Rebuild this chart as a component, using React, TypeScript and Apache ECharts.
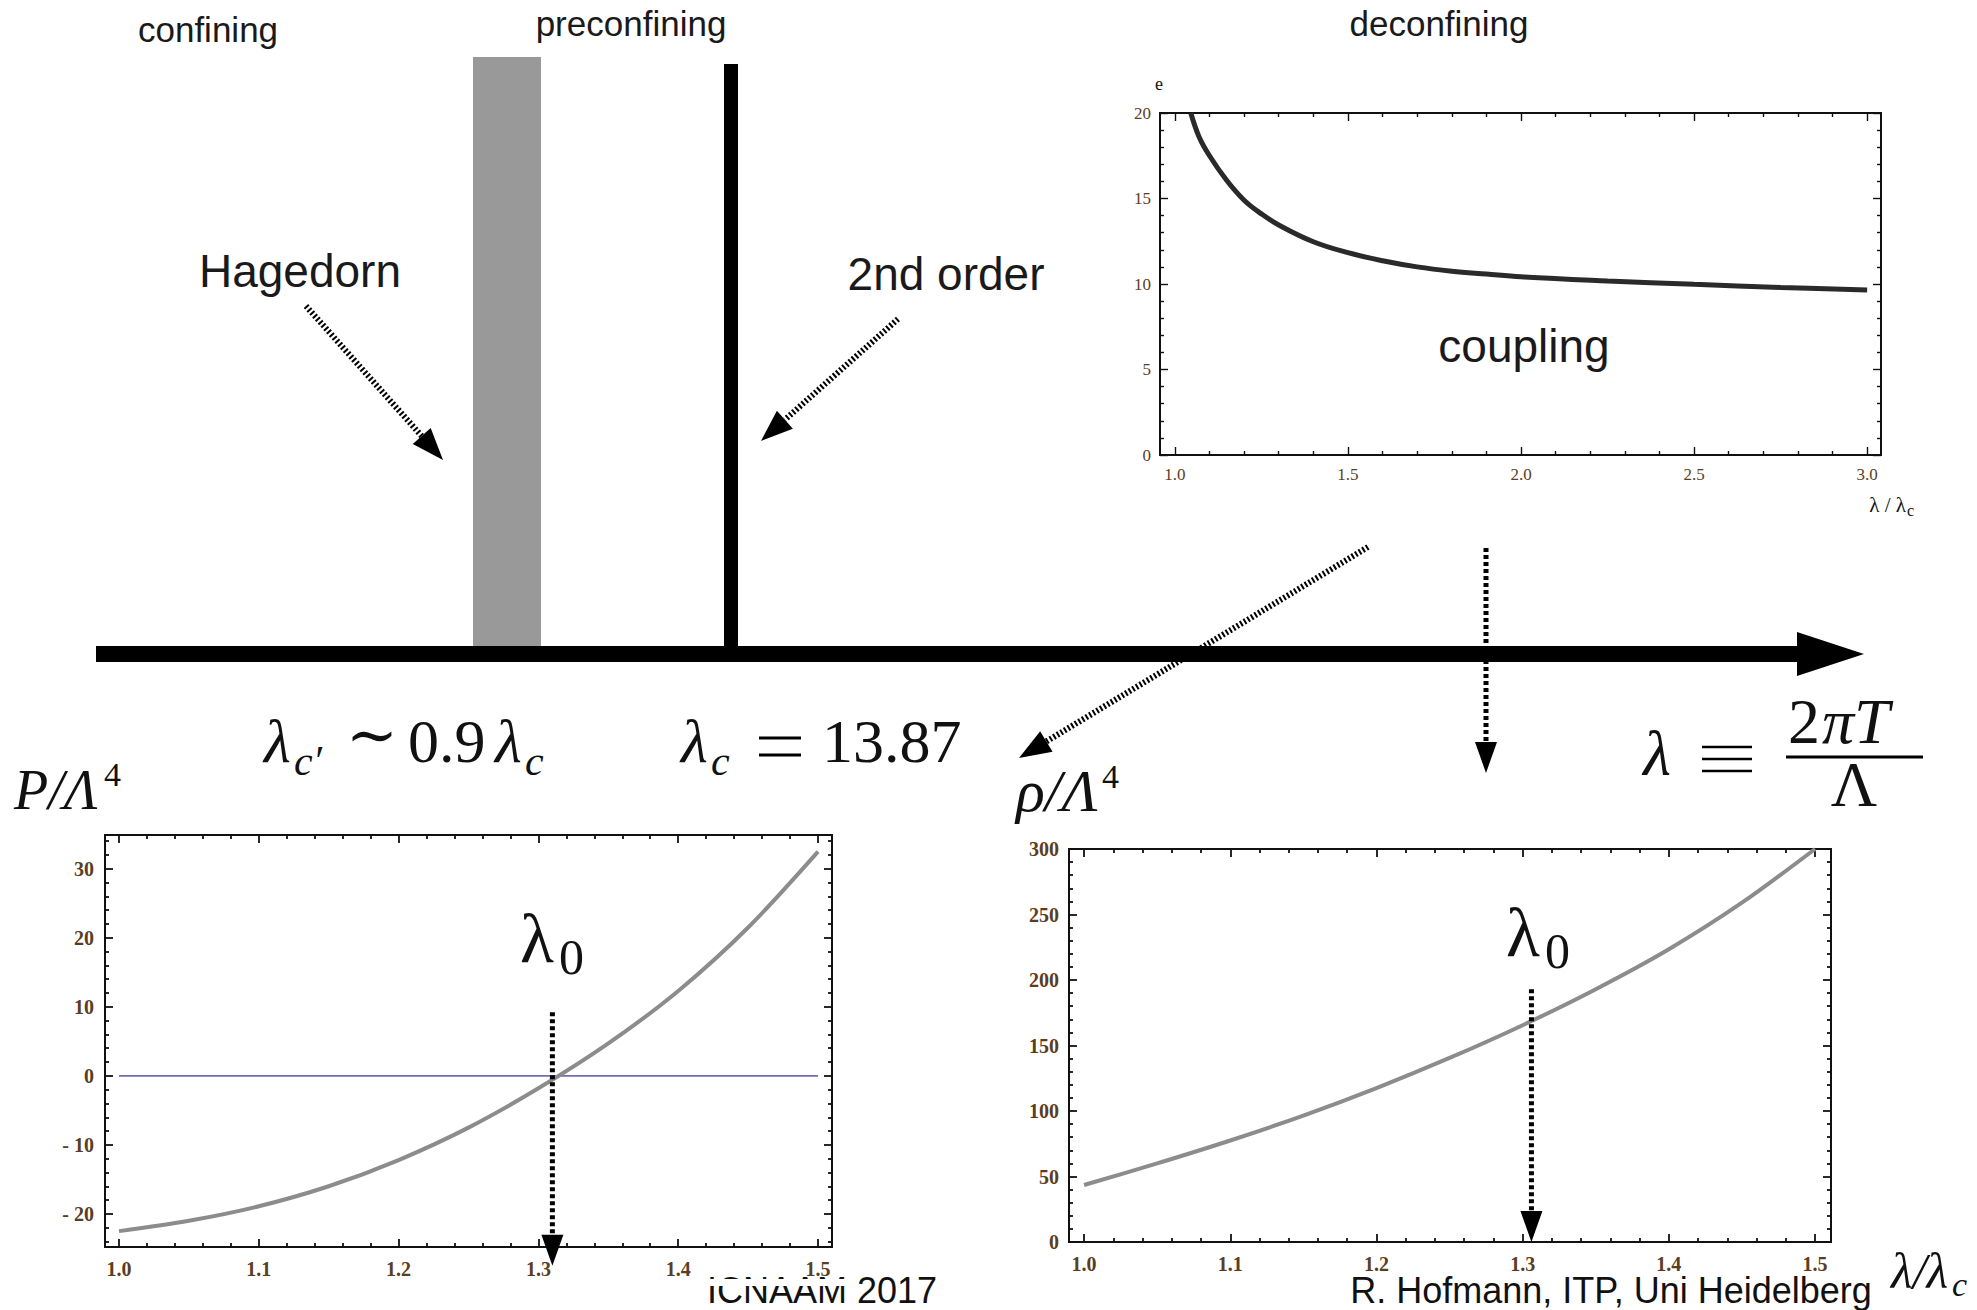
import React, { useEffect, useRef } from "react";
import * as echarts from "echarts";

// ---------- data ----------
const COUPLING_X = [1.046, 1.07, 1.1, 1.15, 1.2, 1.25, 1.3, 1.4, 1.5, 1.6, 1.7, 1.8, 1.9, 2.0, 2.25, 2.5, 2.75, 3.0];
const COUPLING_E = [20, 18.6, 17.5, 16.05, 14.9, 14.1, 13.45, 12.47, 11.83, 11.36, 11.0, 10.75, 10.58, 10.42, 10.18, 9.98, 9.8, 9.65];

const P_X = [1.0, 1.05, 1.1, 1.15, 1.2, 1.25, 1.3, 1.35, 1.4, 1.45, 1.5];
const P_Y = [-22.5, -21.0, -18.9, -16.0, -12.2, -7.5, -1.8, 4.7, 12.3, 21.5, 32.5];

const ZERO_X = [1.0, 1.5];
const ZERO_Y = [0, 0];

const RHO_X = [1.0, 1.05, 1.1, 1.15, 1.2, 1.25, 1.3, 1.35, 1.4, 1.45, 1.5];
const RHO_Y = [43.5, 60, 77.5, 96.5, 117.5, 140.5, 165.5, 193, 223.5, 259, 300];

// tick labels
const COUPLING_X_TICKS = [1.0, 1.5, 2.0, 2.5, 3.0];
const COUPLING_Y_TICKS = [0, 5, 10, 15, 20];
const P_X_TICKS = [1.0, 1.1, 1.2, 1.3, 1.4, 1.5];
const P_Y_TICKS = [-20, -10, 0, 10, 20, 30];
const RHO_X_TICKS = [1.0, 1.1, 1.2, 1.3, 1.4, 1.5];
const RHO_Y_TICKS = [0, 50, 100, 150, 200, 250, 300];

// lambda_0 markers (x, from, to in data units)
const P_LAMBDA0 = [1.31, 9.2, -27.5];
const RHO_LAMBDA0 = [1.306, 193, 0];

// ---------- styles ----------
const SERIF = '"Liberation Serif", "DejaVu Serif", serif';
const SANS = '"Liberation Sans", Arial, "DejaVu Sans", sans-serif';
const LABEL_COLOR = "#5b3d22";

function minorTicks(a: number, b: number, step: number, majors: number[]) {
  const out: number[] = [];
  const n = Math.round((b - a) / step);
  for (let i = 0; i <= n; i++) {
    const v = Math.round((a + i * step) * 1000) / 1000;
    if (!majors.some((m) => Math.abs(m - v) < 1e-6)) out.push(v);
  }
  return out;
}

function frameAxes(
  grid: number,
  kind: "x" | "y",
  min: number,
  max: number,
  majors: number[],
  minors: number[],
  label: any,
  tickW: number
) {
  const pos = kind === "x" ? ["bottom", "top"] : ["left", "right"];
  const list: any[] = [];
  pos.forEach((p, k) => {
    const base = {
      type: "value",
      gridIndex: grid,
      position: p,
      min,
      max,
      axisLine: { show: false, onZero: false },
      splitLine: { show: false },
      minorTick: { show: false },
    };
    list.push({
      ...base,
      axisTick: {
        show: true,
        inside: true,
        length: 8,
        customValues: majors,
        lineStyle: { color: "#111", width: tickW },
      },
      axisLabel:
        k === 0
          ? {
              show: true,
              customValues: majors,
              fontFamily: SERIF,
              color: LABEL_COLOR,
              ...label,
            }
          : { show: false },
    });
    list.push({
      ...base,
      axisTick: {
        show: true,
        inside: true,
        length: 4,
        customValues: minors,
        lineStyle: { color: "#111", width: tickW },
      },
      axisLabel: { show: false },
    });
  });
  return list;
}

function txt(t: string, x: number, baseline: number, size: number, o: any = {}) {
  return {
    type: "text",
    x,
    y: baseline - 0.35 * size,
    z: 100,
    silent: true,
    style: {
      text: t,
      fontSize: size,
      fontFamily: o.family || SANS,
      fontStyle: o.italic ? "italic" : "normal",
      fontWeight: o.weight || "normal",
      fill: o.color || "#111",
      textAlign: o.align || "left",
      textVerticalAlign: "middle",
      verticalAlign: "middle",
    },
  };
}

function seg(x1: number, y1: number, x2: number, y2: number, w: number) {
  return { type: "line", z: 100, silent: true, shape: { x1, y1, x2, y2 }, style: { stroke: "#000", lineWidth: w } };
}

function arrow(x1: number, y1: number, x2: number, y2: number, o: any) {
  const dx = x2 - x1;
  const dy = y2 - y1;
  const len = Math.hypot(dx, dy);
  const ux = dx / len;
  const uy = dy / len;
  const bx = x2 - ux * o.headLen;
  const by = y2 - uy * o.headLen;
  const nx = -uy;
  const ny = ux;
  return [
    {
      type: "line",
      z: 100,
      silent: true,
      shape: { x1, y1, x2: bx, y2: by },
      style: { stroke: "#000", lineWidth: o.width, lineDash: o.dash },
    },
    {
      type: "polygon",
      z: 100,
      silent: true,
      shape: {
        points: [
          [x2, y2],
          [bx + nx * o.headHalf, by + ny * o.headHalf],
          [bx - nx * o.headHalf, by - ny * o.headHalf],
        ],
      },
      style: { fill: "#000" },
    },
  ];
}

const HATCH = { width: 6, dash: [2, 2.2], headLen: 32, headHalf: 12 };
const DOTS = { width: 5, dash: [4, 3], headLen: 31, headHalf: 11 };

function buildGraphic() {
  const g: any[] = [];
  // main lambda axis
  g.push({ type: "rect", z: 90, silent: true, shape: { x: 96, y: 646, width: 1703, height: 16 }, style: { fill: "#000" } });
  g.push({ type: "polygon", z: 90, silent: true, shape: { points: [[1797, 632], [1797, 676], [1864, 654]] }, style: { fill: "#000" } });
  // Hagedorn band and 2nd order line
  g.push({ type: "rect", z: 90, silent: true, shape: { x: 473, y: 57, width: 68, height: 589 }, style: { fill: "#999999" } });
  g.push({ type: "rect", z: 90, silent: true, shape: { x: 724, y: 64, width: 14, height: 586 }, style: { fill: "#000" } });

  // phase names
  g.push(txt("confining", 208, 42, 35, { align: "center", color: "#1a1a1a" }));
  g.push(txt("preconfining", 631, 36, 35, { align: "center", color: "#1a1a1a" }));
  g.push(txt("deconfining", 1439, 36, 35, { align: "center", color: "#1a1a1a" }));
  g.push(txt("Hagedorn", 300, 287, 46, { align: "center", color: "#1a1a1a" }));
  g.push(txt("2nd order", 946, 290, 46, { align: "center", color: "#1a1a1a" }));
  g.push(txt("coupling", 1524, 362, 46, { align: "center", color: "#1a1a1a" }));

  // arrows
  g.push(...arrow(306, 306, 443, 460, HATCH));
  g.push(...arrow(898, 319, 761, 441, HATCH));
  g.push(...arrow(1368, 547, 1019, 758, HATCH));
  g.push(...arrow(1486, 548, 1486, 773, DOTS));

  // formulas
  const F = 62;
  g.push(txt("λ", 264, 763, F, { family: SERIF, italic: true }));
  g.push(txt("c′", 294, 776, 42, { family: SERIF, italic: true }));
  g.push(txt("∼", 372, 757, F, { family: SERIF, align: "center" }));
  g.push(txt("0.9", 408, 763, F, { family: SERIF }));
  g.push(txt("λ", 495, 763, F, { family: SERIF, italic: true }));
  g.push(txt("c", 525, 776, 42, { family: SERIF, italic: true }));

  g.push(txt("λ", 681, 763, F, { family: SERIF, italic: true }));
  g.push(txt("c", 711, 776, 42, { family: SERIF, italic: true }));
  g.push(seg(759, 738, 801, 738, 3));
  g.push(seg(759, 755, 801, 755, 3));
  g.push(txt("13.87", 822, 763, F, { family: SERIF }));

  g.push(txt("λ", 1657, 776, 64, { family: SERIF, italic: true, align: "center" }));
  g.push(seg(1702, 747, 1752, 747, 2.6));
  g.push(seg(1702, 759, 1752, 759, 2.6));
  g.push(seg(1702, 771, 1752, 771, 2.6));
  g.push(seg(1786, 757, 1923, 757, 3));
  g.push(txt("2", 1820, 744, 64, { family: SERIF, align: "right" }));
  g.push(txt("πT", 1822, 744, 64, { family: SERIF, italic: true }));
  g.push(txt("Λ", 1854, 807, 64, { family: SERIF, align: "center" }));

  // axis titles of the lower charts
  g.push(txt("P/Λ", 14, 810, 56, { family: SERIF, italic: true }));
  g.push(txt("4", 104, 786, 34, { family: SERIF }));
  g.push(txt("ρ/Λ", 1016, 812, 60, { family: SERIF, italic: true }));
  g.push(txt("4", 1102, 788, 34, { family: SERIF }));
  g.push(txt("λ/λ", 1891, 1288, 50, { family: SERIF, italic: true }));
  g.push(txt("c", 1952, 1296, 34, { family: SERIF, italic: true }));

  // coupling chart axis labels
  g.push(txt("e", 1159, 90, 18, { family: SERIF, align: "center" }));
  g.push(txt("λ / λ", 1906, 512, 21, { family: SERIF, align: "right" }));
  g.push(txt("c", 1907, 516, 16, { family: SERIF }));

  // lambda_0 labels
  g.push(txt("λ", 520, 963, 70, { family: SERIF }));
  g.push(txt("0", 559, 974, 50, { family: SERIF }));
  g.push(txt("λ", 1506, 957, 70, { family: SERIF }));
  g.push(txt("0", 1545, 968, 50, { family: SERIF }));

  // footer
  g.push(txt("ICNAAM 2017", 707, 1303, 36, { color: "#111" }));
  g.push({ type: "rect", z: 101, silent: true, shape: { x: 700, y: 1279, width: 148, height: 7 }, style: { fill: "#fff" } });
  g.push(txt("R. Hofmann, ITP, Uni Heidelberg", 1611, 1303, 36, { align: "center", color: "#111" }));
  return g;
}

function buildOption() {
  const small = { fontSize: 17, margin: 11 };
  const big = { fontSize: 20, fontWeight: "bold" };
  const xAxes = [
    ...frameAxes(0, "x", 0.957, 3.04, COUPLING_X_TICKS, minorTicks(1.0, 3.0, 0.1, COUPLING_X_TICKS), {
      ...small,
      formatter: (v: number) => v.toFixed(1),
    }, 1.4),
    ...frameAxes(1, "x", 0.99, 1.51, P_X_TICKS, minorTicks(1.0, 1.5, 0.02, P_X_TICKS), {
      ...big,
      margin: 12,
      formatter: (v: number) => v.toFixed(1),
    }, 1.8),
    ...frameAxes(2, "x", 0.9897, 1.5109, RHO_X_TICKS, minorTicks(1.0, 1.5, 0.02, RHO_X_TICKS), {
      ...big,
      margin: 12,
      formatter: (v: number) => v.toFixed(1),
    }, 1.8),
  ];
  const yAxes = [
    ...frameAxes(0, "y", 0, 20, COUPLING_Y_TICKS, minorTicks(0, 20, 1, COUPLING_Y_TICKS), {
      fontSize: 17,
      margin: 9,
    }, 1.4),
    ...frameAxes(1, "y", -24.8, 34.9, P_Y_TICKS, minorTicks(-24, 34, 2, P_Y_TICKS), {
      ...big,
      margin: 11,
      formatter: (v: number) => (v < 0 ? "- " + Math.abs(v) : String(v)),
    }, 1.8),
    ...frameAxes(2, "y", 0, 300, RHO_Y_TICKS, minorTicks(0, 300, 10, RHO_Y_TICKS), {
      ...big,
      margin: 10,
    }, 1.8),
  ];
  const gridStyle = { show: true, borderColor: "#111", borderWidth: 2, backgroundColor: "transparent", containLabel: false, outerBoundsMode: "none" };
  return {
    animation: false,
    backgroundColor: "#ffffff",
    grid: [
      { ...gridStyle, left: 1160, top: 113, width: 721, height: 342 },
      { ...gridStyle, left: 105, top: 835, width: 727, height: 412 },
      { ...gridStyle, left: 1069, top: 849, width: 762, height: 393 },
    ],
    xAxis: xAxes,
    yAxis: yAxes,
    series: [
      {
        type: "line",
        xAxisIndex: 0,
        yAxisIndex: 0,
        data: COUPLING_X.map((x, i) => [x, COUPLING_E[i]]),
        showSymbol: false,
        smooth: 0.4,
        lineStyle: { color: "#2a2a2a", width: 5 },
      },
      {
        type: "line",
        xAxisIndex: 4,
        yAxisIndex: 4,
        data: ZERO_X.map((x, i) => [x, ZERO_Y[i]]),
        showSymbol: false,
        lineStyle: { color: "#6e6eb4", width: 1.6 },
      },
      {
        type: "line",
        xAxisIndex: 4,
        yAxisIndex: 4,
        data: P_X.map((x, i) => [x, P_Y[i]]),
        showSymbol: false,
        smooth: 0.3,
        lineStyle: { color: "#8c8c8c", width: 4 },
      },
      {
        type: "line",
        xAxisIndex: 8,
        yAxisIndex: 8,
        data: RHO_X.map((x, i) => [x, RHO_Y[i]]),
        showSymbol: false,
        smooth: 0.3,
        lineStyle: { color: "#8c8c8c", width: 4 },
      },
    ],
    graphic: buildGraphic(),
  };
}

export default function App() {
  const ref = useRef<HTMLDivElement>(null);
  useEffect(() => {
    document.body.style.margin = "0";
    const chart = echarts.init(ref.current as HTMLDivElement, null, { renderer: "svg" });
    chart.setOption(buildOption() as any);
    const g = buildGraphic();
    const pA = chart.convertToPixel({ xAxisIndex: 4, yAxisIndex: 4 } as any, [P_LAMBDA0[0], P_LAMBDA0[1]]) as number[];
    const pB = chart.convertToPixel({ xAxisIndex: 4, yAxisIndex: 4 } as any, [P_LAMBDA0[0], P_LAMBDA0[2]]) as number[];
    const rA = chart.convertToPixel({ xAxisIndex: 8, yAxisIndex: 8 } as any, [RHO_LAMBDA0[0], RHO_LAMBDA0[1]]) as number[];
    const rB = chart.convertToPixel({ xAxisIndex: 8, yAxisIndex: 8 } as any, [RHO_LAMBDA0[0], RHO_LAMBDA0[2]]) as number[];
    if (pA && pB) g.push(...arrow(pA[0], pA[1], pB[0], pB[1], DOTS));
    if (rA && rB) g.push(...arrow(rA[0], rA[1], rB[0], rB[1], DOTS));
    chart.setOption({ graphic: g } as any);
    return () => chart.dispose();
  }, []);
  return <div ref={ref} style={{ width: 1977, height: 1310 }} />;
}
